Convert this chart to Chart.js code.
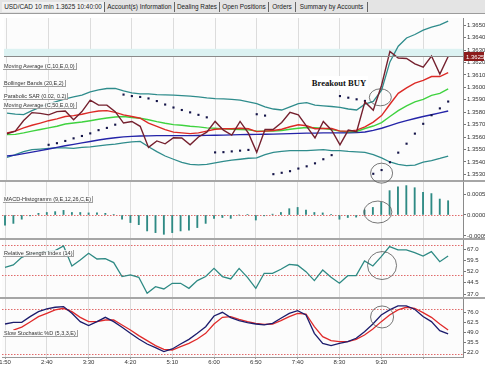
<!DOCTYPE html>
<html>
<head>
<meta charset="utf-8">
<script src="https://cdn.jsdelivr.net/npm/chart.js@4.4.1/dist/chart.umd.min.js"></script>
<style>
body{margin:0;width:485px;height:367px;position:relative;overflow:hidden;background:#fff;font-family:'Liberation Sans',Arial,sans-serif}
canvas{position:absolute;left:0}
.sep{position:absolute;left:0;width:485px;height:2px;background:#a6a6a6;z-index:2}
.lbl{position:absolute;left:3px;font-size:5.5px;line-height:6px;color:#333;white-space:nowrap;padding:0 1px;background:rgba(250,250,250,.85);border-bottom:1.5px solid #a0a0a0;border-right:1px solid #a0a0a0;z-index:5}
#tabs{position:absolute;left:0;top:0;width:485px;height:13px;background:#e4e4e4;border-bottom:1px solid #9c9c9c}
.tab{position:absolute;top:2px;height:10px;font-size:6.4px;line-height:10px;text-align:center;color:#222;border-right:1px solid #666;white-space:nowrap}
#buy{position:absolute;left:310px;top:76px;width:58px;height:14px;background:#fff;font:bold 8.6px 'Liberation Serif',serif;line-height:14px;text-align:center;color:#111;white-space:nowrap;z-index:5}
</style>
</head>
<body>
<div id="tabs">
  <div class="tab" style="left:2px;width:102px;background:#f2f2f2">USD/CAD 10 min 1.3625 10:40:00</div>
  <div class="tab" style="left:105px;width:69px">Account(s) Information</div>
  <div class="tab" style="left:175px;width:44px">Dealing Rates</div>
  <div class="tab" style="left:220px;width:48px">Open Positions</div>
  <div class="tab" style="left:269px;width:26px">Orders</div>
  <div class="tab" style="left:296px;width:71px">Summary by Accounts</div>
</div>

<canvas id="main" width="485" height="176" style="top:14px;z-index:3"></canvas>
<canvas id="macd" width="485" height="56" style="top:182px;z-index:1"></canvas>
<canvas id="rsi" width="485" height="57" style="top:240px;z-index:1"></canvas>
<canvas id="stoch" width="485" height="68" style="top:299px;z-index:1"></canvas>

<div class="sep" style="top:180px"></div>
<div class="sep" style="top:238px"></div>
<div class="sep" style="top:297px"></div>

<div class="lbl" style="top:63px">Moving Average (C,10,E,0,0)</div>
<div class="lbl" style="top:80px">Bollinger Bands (20,E,2)</div>
<div class="lbl" style="top:93px">Parabolic SAR (0.02, 0.2)</div>
<div class="lbl" style="top:102px">Moving Average (C,50,E,0,0)</div>
<div class="lbl" style="top:196px">MACD-Histogramm (9,E,12,26,C,E)</div>
<div class="lbl" style="top:250px">Relative Strength Index (14)</div>
<div class="lbl" style="top:330px">Slow Stochastic %D (5,3,3,E)</div>
<div id="buy">Breakout BUY</div>

<script>
// 10 min bars, 1:50 .. 10:40
const timeLabels = ['1:50', '2:40', '3:30', '4:20', '5:10', '6:00', '6:50', '7:40', '8:30', '9:20'];
const gridBars = [0, 5, 10, 15, 20, 25, 30, 35, 40, 45, 50];

const price = [1.35627, 1.35648, 1.35734, 1.35797, 1.35791, 1.35779, 1.35805, 1.35810, 1.35740, 1.35805,
    1.35897, 1.35857, 1.35857, 1.35805, 1.35713, 1.35726, 1.35687, 1.35517, 1.35569, 1.35546,
    1.35595, 1.35593, 1.35538, 1.35601, 1.35640, 1.35726, 1.35656, 1.35616, 1.35726, 1.35632,
    1.35477, 1.35661, 1.35663, 1.35718, 1.35799, 1.35779, 1.35687, 1.35593, 1.35726, 1.35656,
    1.35538, 1.35656, 1.35644, 1.35883, 1.35816, 1.36017, 1.36289, 1.36236, 1.36232, 1.36189,
    1.36162, 1.36252, 1.36107, 1.36248];
const ma10 = [1.35634, 1.35648, 1.35674, 1.35695, 1.35713, 1.35732, 1.35747, 1.35766, 1.35773, 1.35784,
    1.35799, 1.35810, 1.35813, 1.35799, 1.35779, 1.35766, 1.35752, 1.35713, 1.35687, 1.35660,
    1.35640, 1.35634, 1.35628, 1.35634, 1.35648, 1.35663, 1.35667, 1.35667, 1.35671, 1.35667,
    1.35644, 1.35648, 1.35653, 1.35663, 1.35683, 1.35699, 1.35691, 1.35667, 1.35669, 1.35669,
    1.35648, 1.35648, 1.35656, 1.35682, 1.35721, 1.35773, 1.35864, 1.35952, 1.35996, 1.36035,
    1.36056, 1.36087, 1.36087, 1.36119];
const bbMid = [1.35620, 1.35622, 1.35634, 1.35648, 1.35661, 1.35674, 1.35687, 1.35705, 1.35713, 1.35721,
    1.35732, 1.35744, 1.35754, 1.35762, 1.35766, 1.35758, 1.35752, 1.35740, 1.35724, 1.35711,
    1.35700, 1.35695, 1.35687, 1.35682, 1.35674, 1.35671, 1.35666, 1.35663, 1.35661, 1.35658,
    1.35648, 1.35648, 1.35648, 1.35653, 1.35663, 1.35671, 1.35677, 1.35675, 1.35669, 1.35661,
    1.35648, 1.35642, 1.35645, 1.35669, 1.35689, 1.35716, 1.35766, 1.35813, 1.35852, 1.35883,
    1.35904, 1.35936, 1.35952, 1.35988];
const ma50 = [1.35448, 1.35455, 1.35467, 1.35479, 1.35491, 1.35504, 1.35517, 1.35530, 1.35542, 1.35554,
    1.35565, 1.35577, 1.35587, 1.35595, 1.35602, 1.35606, 1.35609, 1.35610, 1.35612, 1.35612,
    1.35612, 1.35612, 1.35612, 1.35613, 1.35614, 1.35615, 1.35616, 1.35618, 1.35620, 1.35621,
    1.35622, 1.35623, 1.35624, 1.35626, 1.35628, 1.35630, 1.35632, 1.35632, 1.35634, 1.35634,
    1.35634, 1.35635, 1.35636, 1.35641, 1.35654, 1.35671, 1.35692, 1.35714, 1.35733, 1.35750,
    1.35766, 1.35780, 1.35795, 1.35810];
const bbUpper = [1.35793, 1.35785, 1.35781, 1.35813, 1.35840, 1.35868, 1.35887, 1.35907, 1.35923, 1.35938,
    1.35964, 1.35980, 1.35991, 1.35991, 1.35971, 1.35956, 1.35948, 1.35948, 1.35941, 1.35940,
    1.35938, 1.35934, 1.35930, 1.35923, 1.35915, 1.35909, 1.35907, 1.35904, 1.35897, 1.35883,
    1.35870, 1.35844, 1.35826, 1.35818, 1.35844, 1.35870, 1.35878, 1.35857, 1.35852, 1.35846,
    1.35839, 1.35826, 1.35818, 1.35865, 1.35887, 1.35977, 1.36205, 1.36331, 1.36397, 1.36425,
    1.36460, 1.36484, 1.36503, 1.36533];
const bbLower = [1.35436, 1.35459, 1.35483, 1.35499, 1.35504, 1.35510, 1.35513, 1.35514, 1.35510, 1.35517,
    1.35522, 1.35530, 1.35538, 1.35543, 1.35554, 1.35561, 1.35565, 1.35522, 1.35483, 1.35448,
    1.35422, 1.35397, 1.35381, 1.35377, 1.35381, 1.35393, 1.35404, 1.35415, 1.35422, 1.35430,
    1.35433, 1.35459, 1.35477, 1.35485, 1.35491, 1.35491, 1.35491, 1.35495, 1.35499, 1.35491,
    1.35491, 1.35485, 1.35481, 1.35477, 1.35459, 1.35433, 1.35400, 1.35381, 1.35371, 1.35375,
    1.35398, 1.35410, 1.35428, 1.35448];
const sar = [null, null, null, null, null, 1.35538, 1.35551, 1.35569, 1.35590, 1.35609,
    1.35630, 1.35656, 1.35674, 1.35700, 1.35942, 1.35930, 1.35923, 1.35911, 1.35890, 1.35862,
    1.35838, 1.35818, 1.35799, 1.35779, 1.35759, 1.35477, 1.35479, 1.35485, 1.35491, 1.35497,
    1.35784, 1.35773, 1.35302, 1.35313, 1.35326, 1.35347, 1.35365, 1.35389, 1.35422, 1.35455,
    1.35930, 1.35917, 1.35904, 1.35891, 1.35305, 1.35335, 1.35398, 1.35475, 1.35547, 1.35628,
    1.35707, 1.35776, 1.35831, 1.35886];

const macdHist = [-0.00024, -0.0002, -0.0001, -0.00002, 0.00004, 0.00006, 0.00008, 0.00011, 0.00006, 0.00006,
    0.00005, 0.00005, 0.00004, 0.00001, -0.0001, -0.00018, -0.00023, -0.00038, -0.00042, -0.00046,
    -0.00042, -0.00038, -0.00036, -0.0003, -0.0002, -0.00008, -0.00006, -0.00008, 0, 0.00001,
    -0.00012, -0.00002, 0.00002, 0.00006, 0.00015, 0.00018, 0.00012, 0.00006, 0.00005, 0.00001,
    -0.0001, -0.00006, -0.00005, 0.00012, 0.00018, 0.0003, 0.00058, 0.00067, 0.0007, 0.00065,
    0.00054, 0.00051, 0.00038, 0.00034];
const rsi = [54.9, 56.5, 61.6, 63.9, 64.8, 65.4, 66.1, 69.2, 55.8, 59.8,
    64.3, 60.5, 60.7, 58.1, 48.7, 49.8, 48.2, 37.5, 41.9, 40.4,
    44.2, 44.2, 40.8, 46, 48.7, 54.2, 48.7, 47.1, 54.2, 48.2,
    40.8, 50.9, 50.9, 53.6, 56.9, 56.3, 52, 46, 53.1, 48.2,
    44.2, 49.3, 49.3, 59.2, 55.8, 62.1, 68.8, 66.6, 66.6, 64.8,
    62.5, 65.4, 58.7, 62.5];
const stochK = [60.2, 62.5, 62.5, 70.1, 76.9, 80.5, 82.8, 83.7, 74.6, 63.4,
    58, 63.4, 69.2, 63.4, 55.7, 47.6, 40, 33.2, 28.3, 22.9,
    26.5, 33.2, 39.5, 47.6, 56.6, 71, 76, 68.8, 64.8, 62,
    60.2, 58.9, 61.1, 67.9, 74.6, 78.2, 72.4, 47.6, 34.1, 31,
    34.1, 36.4, 40.9, 49.9, 60.2, 72.4, 79.2, 84.6, 84.6, 80.1,
    70.2, 63.4, 51.2, 46.8];
const stochD = [null, 52, 56, 63, 70.1, 74.6, 79.2, 81.4, 76.9, 69.2,
    63.4, 63.4, 65.6, 65.6, 58.9, 52.1, 44.5, 37.7, 31, 26,
    25.1, 29.6, 34.1, 40, 47.6, 60.2, 69.2, 70.1, 66.5, 63.4,
    61.1, 59.8, 60.2, 64.8, 70.1, 74.6, 73.7, 56.6, 43.1, 37.7,
    36.4, 36.4, 39.5, 45.4, 53.5, 63.4, 72.4, 79.2, 82.8, 81.4,
    75.5, 69.2, 60.2, 52.1];

// axis ticks
const mainTicks = [1.353, 1.354, 1.355, 1.356, 1.357, 1.358, 1.359, 1.360, 1.361, 1.362, 1.363, 1.364, 1.365];
const macdTicks = [0.0005, 0, -0.0005];
const rsiTicks = [67, 59.5, 52, 44.5, 37];
const stochTicks = [76, 62.5, 49, 35.5, 22];
const macdLevels = [0];
const rsiLevels = [70, 50];
const stochLevels = [80, 20];
const currentPrice = 1.3625;
const spreadTop = 1.3631;

// hand drawn circles: [bar, value, rx, ry]
const circles = {
    main: [[44.85, 1.3592, 11, 8.5], [45, 1.3531, 11, 10]],
    macd: [[44.6, 0.00007, 14, 11]],
    rsi: [[45.1, 56.1, 14.5, 14]],
    stoch: [[45.1, 69.7, 11.5, 11]]
};

const FONT = "'Liberation Sans', Arial, sans-serif";
const X_MIN = -0.36, X_MAX = 54.78;

function pts(arr) {
    return arr.map((v, i) => ({ x: i, y: v }));
}

function line(data, color, width) {
    return { type: 'line', data: pts(data), borderColor: color, borderWidth: width || 1.4, pointRadius: 0, tension: 0, fill: false };
}

function xAxis(showLabels) {
    return {
        type: 'linear', min: X_MIN, max: X_MAX, offset: false,
        grid: { color: '#dcdcdc', lineWidth: 1, offset: false, drawTicks: showLabels, tickLength: 2, tickColor: '#999' },
        border: { display: showLabels, color: '#999' },
        ticks: {
            display: showLabels, autoSkip: false, maxRotation: 0, padding: 0,
            font: { size: 6, family: FONT }, color: '#333',
            callback: (v, idx) => timeLabels[idx] || ''
        },
        afterBuildTicks: s => { s.ticks = gridBars.map(v => ({ value: v })); },
        afterFit: s => { s.height = showLabels ? 10 : 0; s.paddingLeft = 0; s.paddingRight = 0; }
    };
}

function yAxis(min, max, ticks, digits) {
    return {
        position: 'right', min: min, max: max,
        grid: { drawOnChartArea: false, drawTicks: true, tickLength: 3, tickColor: '#777' },
        border: { display: true, color: '#8a8a8a' },
        ticks: {
            autoSkip: false, padding: 1, font: { size: 6, family: FONT }, color: '#333',
            callback: v => v.toFixed(digits)
        },
        afterBuildTicks: s => { s.ticks = ticks.map(v => ({ value: v })); },
        afterFit: s => { s.width = 22; s.paddingTop = 0; s.paddingBottom = 0; }
    };
}

function decoPlugin(extra) {
    return {
        id: 'deco',
        beforeDraw(chart) {
            const a = chart.chartArea, ctx = chart.ctx;
            ctx.save();
            ctx.fillStyle = '#fcfcfc';
            ctx.fillRect(a.left, a.top, a.right - a.left, a.bottom - a.top);
            ctx.restore();
        },
        beforeDatasetsDraw(chart) {
            const a = chart.chartArea, ctx = chart.ctx, y = chart.scales.y;
            ctx.save();
            if (extra.band) {
                const y1 = y.getPixelForValue(extra.band[1]), y0 = y.getPixelForValue(extra.band[0]);
                ctx.fillStyle = '#dcf2f2';
                ctx.fillRect(a.left, y1, a.right - a.left, y0 - y1);
            }
            (extra.levels || []).forEach(v => {
                const py = Math.round(y.getPixelForValue(v)) + 0.5;
                ctx.strokeStyle = '#e06a6a';
                ctx.lineWidth = 1;
                ctx.setLineDash([1.5, 1.5]);
                ctx.beginPath();
                ctx.moveTo(a.left, py);
                ctx.lineTo(a.right, py);
                ctx.stroke();
            });
            ctx.restore();
        },
        afterDraw(chart) {
            const a = chart.chartArea, ctx = chart.ctx, x = chart.scales.x, y = chart.scales.y;
            ctx.save();
            if (extra.priceLine) {
                const py = Math.round(y.getPixelForValue(extra.priceLine)) + 0.5;
                ctx.strokeStyle = '#8a8a8a';
                ctx.lineWidth = 1;
                ctx.beginPath();
                ctx.moveTo(a.left, py);
                ctx.lineTo(a.right, py);
                ctx.stroke();
                ctx.fillStyle = '#8c1b1b';
                ctx.fillRect(a.right + 1, py - 4.5, 20, 9);
                ctx.fillStyle = '#fff';
                ctx.font = '6px ' + FONT;
                ctx.textBaseline = 'middle';
                ctx.fillText(extra.priceLine.toFixed(4), a.right + 3, py + 0.5);
            }
            ctx.strokeStyle = '#555';
            ctx.lineWidth = 0.8;
            (extra.circles || []).forEach(c => {
                ctx.beginPath();
                ctx.ellipse(x.getPixelForValue(c[0]), y.getPixelForValue(c[1]), c[2], c[3], 0, 0, Math.PI * 2);
                ctx.stroke();
            });
            ctx.restore();
        }
    };
}

function makeChart(id, type, datasets, yOpts, extra, showX, padBottom) {
    return new Chart(document.getElementById(id), {
        type: type,
        data: { datasets: datasets },
        options: {
            responsive: false,
            animation: false,
            events: [],
            layout: { padding: { left: 2, right: 0, top: 0, bottom: padBottom || 0 } },
            plugins: { legend: { display: false }, tooltip: { enabled: false } },
            scales: { x: xAxis(showX), y: yOpts }
        },
        plugins: [decoPlugin(extra)]
    });
}

// price panel
makeChart('main', 'line', [
    line(price, '#74202e', 1.4),
    { type: 'line', data: pts(sar), showLine: false, pointStyle: 'rect', pointRadius: 1.5,
      pointBackgroundColor: '#141448', pointBorderWidth: 0 },
    line(ma10, '#dc2a26', 1.4),
    line(bbMid, '#3fd23f', 1.4),
    line(ma50, '#2424a8', 1.4),
    line(bbUpper, '#2f8c8c', 1.3),
    line(bbLower, '#2f8c8c', 1.3)
], yAxis(1.35255, 1.36558, mainTicks, 4),
   { band: [currentPrice, spreadTop], priceLine: currentPrice, circles: circles.main }, false, 10);

// MACD histogram
makeChart('macd', 'bar', [
    { type: 'bar', data: pts(macdHist), backgroundColor: '#2e8a84', barThickness: 1.2, grouped: false }
], yAxis(-0.000548, 0.000786, macdTicks, 4), { levels: macdLevels, circles: circles.macd }, false);

// RSI
makeChart('rsi', 'line', [
    line(rsi, '#2e8a84', 1.3)
], yAxis(34.99, 73.24, rsiTicks, 1), { levels: rsiLevels, circles: circles.rsi }, false);

// Slow stochastic
makeChart('stoch', 'line', [
    line(stochK, '#1c1c6c', 1.3),
    line(stochD, '#e02a2a', 1.3)
], yAxis(15.66, 93.95, stochTicks, 1), { levels: stochLevels, circles: circles.stoch }, true);
</script>
</body>
</html>
